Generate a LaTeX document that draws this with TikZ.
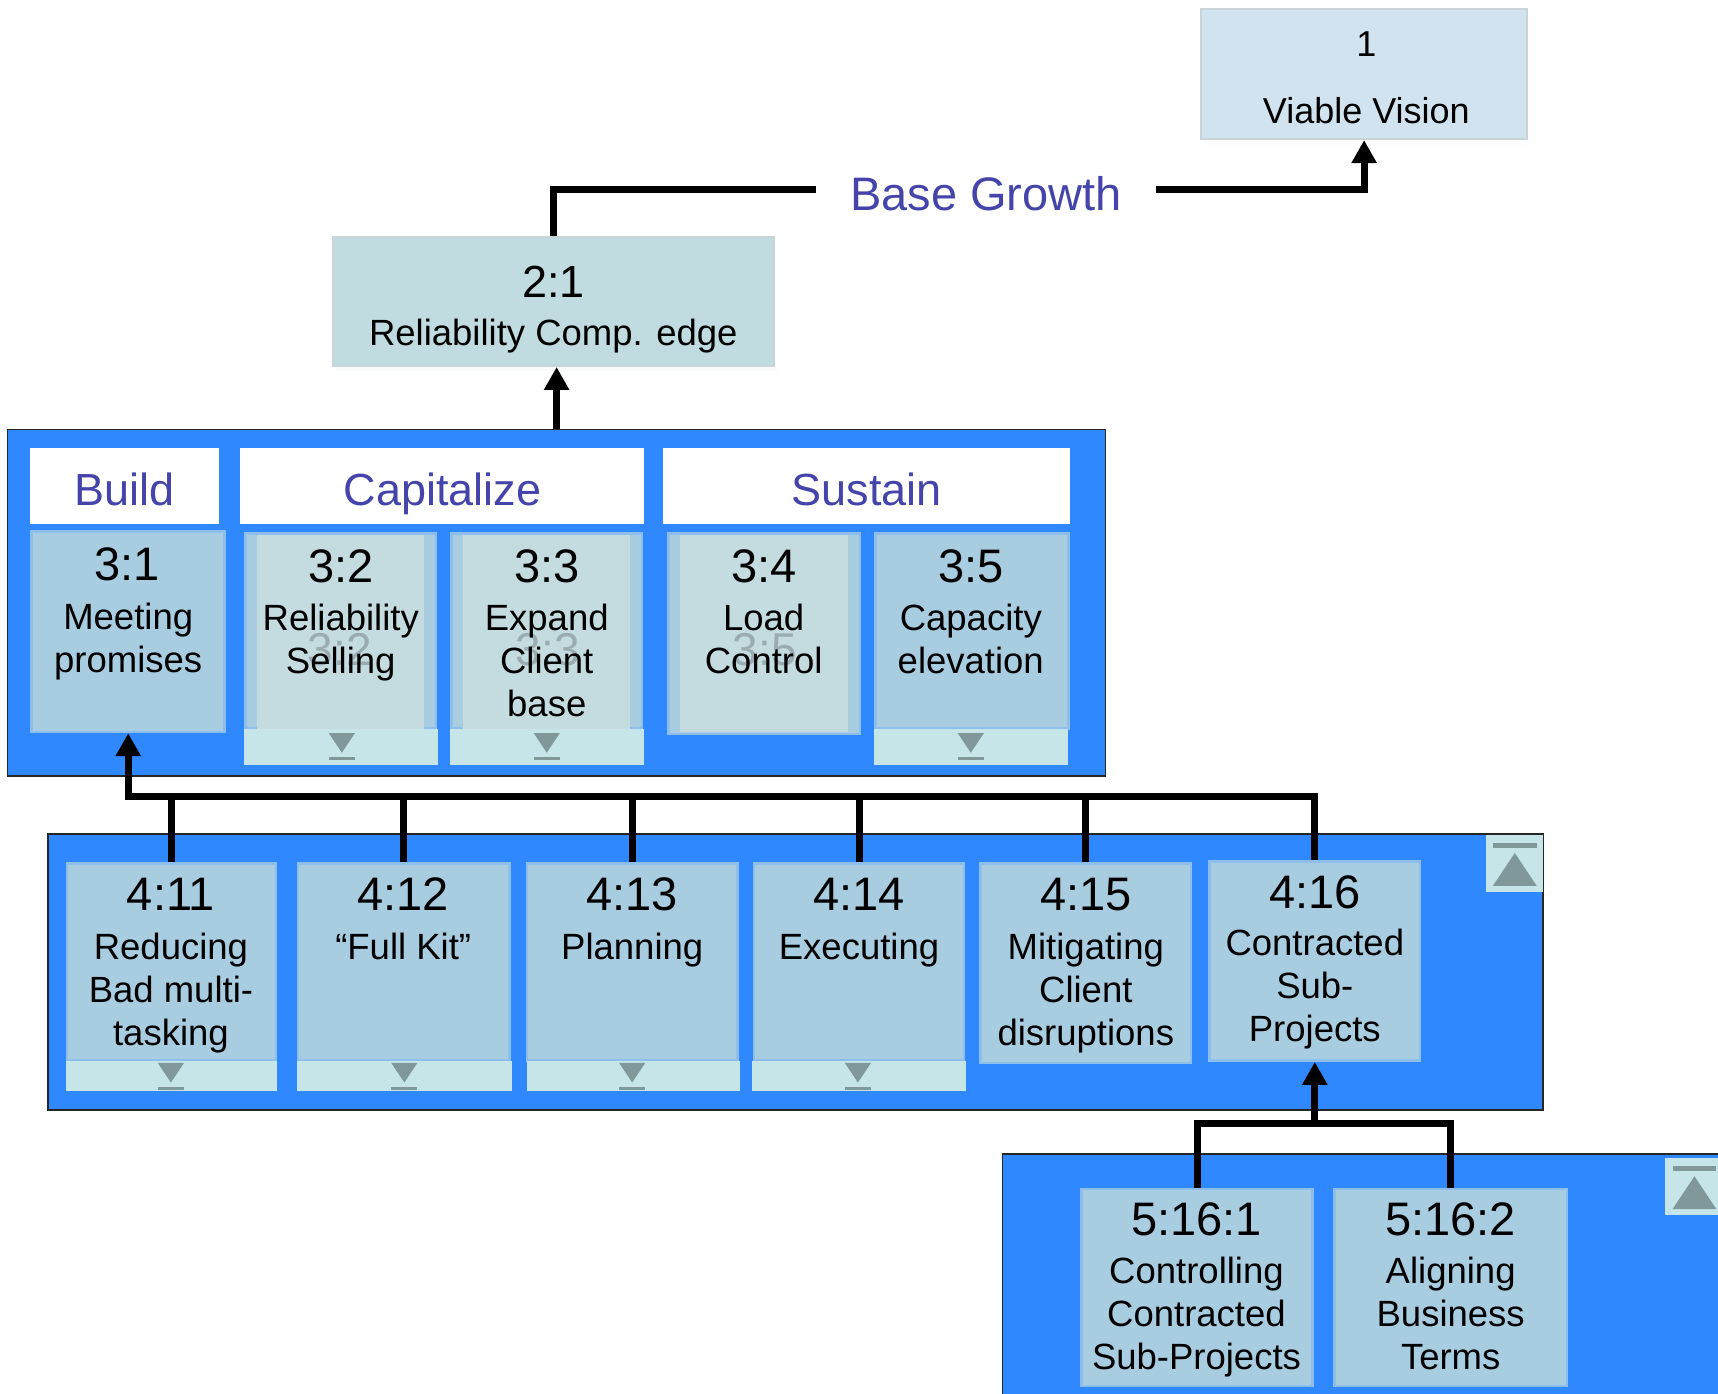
\documentclass[tikz,border=0pt]{standalone}
\usepackage{fontspec}
\setmainfont{Liberation Sans}
\usetikzlibrary{arrows.meta,fit}
\definecolor{panelblue}{RGB}{48,136,255}
\definecolor{boxfill}{RGB}{168,204,224}
\definecolor{boxedge}{RGB}{142,190,236}
\definecolor{greyfill}{RGB}{196,219,224}
\definecolor{stripfill}{RGB}{197,229,232}
\definecolor{trigrey}{RGB}{128,152,154}
\definecolor{headtext}{RGB}{68,68,170}
\definecolor{vvfill}{RGB}{208,227,238}
\definecolor{rcfill}{RGB}{192,220,224}
\definecolor{topedge}{RGB}{200,212,216}
\definecolor{ghost}{RGB}{155,172,176}
\tikzset{
  panel/.style={fill=panelblue, draw=black!85, line width=1.6pt, inner sep=0pt},
  box/.style={fill=boxfill, draw=boxedge, line width=2.6pt, inner sep=0pt},
  gbox/.style={fill=boxfill, draw=boxedge, line width=2.6pt, inner sep=0pt},
  topbox/.style={draw=topedge, line width=2pt, inner sep=0pt},
  header/.style={fill=white, inner sep=0pt},
  strip/.style={fill=stripfill, inner sep=0pt},
  numtxt/.style={font=\fontsize{47pt}{54pt}\selectfont, inner sep=0pt},
  bodytxt/.style={font=\fontsize{36.5pt}{43pt}\selectfont, align=center, inner sep=0pt, anchor=north},
  headtxt/.style={font=\fontsize{45pt}{54pt}\selectfont, text=headtext, inner sep=0pt, anchor=base},
  ghosttxt/.style={font=\fontsize{46pt}{52pt}\selectfont, text=ghost, inner sep=0pt},
  conn/.style={line width=7pt, draw=black, line join=miter},
  arr/.style={-{Triangle[width=24pt,length=23pt]}},
  downbtn/.pic={
    \fill[trigrey] (-12,4) -- (12,4) -- (0,22) -- cycle;
    \fill[trigrey] (-12,26) rectangle (12,29);
  },
  upbtn/.pic={
    \fill[stripfill] (0,0) rectangle (52,52);
    \fill[trigrey] (6.5,7.5) rectangle (46.5,12);
    \fill[trigrey] (6.5,46.5) -- (46.5,46.5) -- (26.5,16.5) -- cycle;
  }
}
\begin{document}
\begin{tikzpicture}[x=1.0957pt, y=-1.0957pt]
\useasboundingbox (0,0) rectangle (1568,1272);
\clip (0,0) rectangle (1568,1272);

% top level boxes
\fill[white!92!vvfill] (1099,127) rectangle (1397,132);
\node[topbox, fill=vvfill, fit={(1096,8)(1394,127)}] (vv) {};
\node[inner sep=0pt, font=\fontsize{36pt}{42pt}\selectfont] (vvnum) at (1247,40) {1};
\node[inner sep=0pt, font=\fontsize{36pt}{42pt}\selectfont] (vvtxt) at (1247,101) {Viable Vision};

\node[inner sep=0pt, font=\fontsize{47pt}{56pt}\selectfont, text=headtext] (bg) at (900,177) {Base Growth};
\coordinate (bgL) at (745,173);
\coordinate (bgR) at (1055,173);

\fill[white!90!rcfill] (307,334) rectangle (709,339);
\node[topbox, fill=rcfill, fit={(304,216)(706,334)}] (n21) {};
\node[numtxt, font=\fontsize{45pt}{54pt}\selectfont] (n21num) at (505,257) {2:1};
\node[inner sep=0pt, font=\fontsize{36.5pt}{43pt}\selectfont, anchor=base] (n21txt) at (505,315) {Reliability Comp. edge};

% panel 1
\node[panel, fit={(7,392)(1009,708)}] (p1) {};
\node[header, fit={(27,409)(200,478)}] (hbuild) {};
\node[header, fit={(219,409)(588,478)}] (hcap) {};
\node[header, fit={(605,409)(977,478)}] (hsus) {};
\node[headtxt] (hbuildtxt) at (114,461) {Build};
\node[headtxt] (hcaptxt) at (404,461) {Capitalize};
\node[headtxt] (hsustxt) at (791,461) {Sustain};

\node[box, fit={(29,485)(205,668)}] (n31) {};
\node[numtxt] (n31num) at (116,515) {3:1};
\node[bodytxt] (n31txt) at (117,550) {Meeting\\promises};

\node[gbox, fit={(224,487)(398,665)}] (n32) {};
\fill[greyfill] (235,488) rectangle (387,665);
\node[strip, fit={(223,665)(400,698)}] (s32) {};
\pic at (312,665) {downbtn};
\node[ghosttxt] (g32) at (310,593) {3:2};
\node[numtxt] (n32num) at (311,517) {3:2};
\node[bodytxt] (n32txt) at (311,551) {Reliability\\Selling};

\node[gbox, fit={(412,487)(586,665)}] (n33) {};
\fill[greyfill] (423,488) rectangle (575,665);
\node[strip, fit={(411,665)(588,698)}] (s33) {};
\pic at (499,665) {downbtn};
\node[ghosttxt] (g33) at (500,593) {3:3};
\node[numtxt] (n33num) at (499,517) {3:3};
\node[bodytxt] (n33txt) at (499,551) {Expand\\Client\\base};

\node[gbox, fit={(610,487)(785,670)}] (n34) {};
\fill[greyfill] (621,488) rectangle (774,668);
\node[ghosttxt] (g34) at (698,593) {3:5};
\node[numtxt] (n34num) at (697,517) {3:4};
\node[bodytxt] (n34txt) at (697,551) {Load\\Control};

\node[box, fit={(799,487)(975,665)}] (n35) {};
\node[strip, fit={(798,665)(975,698)}] (s35) {};
\pic at (886,665) {downbtn};
\node[numtxt] (n35num) at (886,517) {3:5};
\node[bodytxt] (n35txt) at (886,551) {Capacity\\elevation};

% panel 2
\node[panel, fit={(44,761)(1408,1013)}] (p2) {};
\pic at (1356,762) {upbtn};

\node[box, fit={(61,788)(252,968)}] (n411) {};
\node[strip, fit={(60,968)(253,996)}] (s411) {};
\pic at (156,966) {downbtn};
\node[numtxt] (n411num) at (156,816) {4:11};
\node[bodytxt] (n411txt) at (156,851) {Reducing\\Bad multi-\\tasking};

\node[box, fit={(272,788)(465,968)}] (n412) {};
\node[strip, fit={(271,968)(467,996)}] (s412) {};
\pic at (369,966) {downbtn};
\node[numtxt] (n412num) at (368,816) {4:12};
\node[bodytxt] (n412txt) at (368,851) {“Full Kit”};

\node[box, fit={(481,788)(673,968)}] (n413) {};
\node[strip, fit={(481,968)(675,996)}] (s413) {};
\pic at (577,966) {downbtn};
\node[numtxt] (n413num) at (577,816) {4:13};
\node[bodytxt] (n413txt) at (577,851) {Planning};

\node[box, fit={(688,788)(880,968)}] (n414) {};
\node[strip, fit={(686,968)(882,996)}] (s414) {};
\pic at (783,966) {downbtn};
\node[numtxt] (n414num) at (784,816) {4:14};
\node[bodytxt] (n414txt) at (784,851) {Executing};

\node[box, fit={(895,788)(1087,970)}] (n415) {};
\node[numtxt] (n415num) at (991,816) {4:15};
\node[bodytxt] (n415txt) at (991,851) {Mitigating\\Client\\disruptions};

\node[box, fit={(1104,786)(1296,968)}] (n416) {};
\node[numtxt] (n416num) at (1200,814) {4:16};
\node[bodytxt] (n416txt) at (1200,848) {Contracted\\Sub-\\Projects};

% panel 3
\node[panel, fit={(915,1053)(1600,1300)}] (p3) {};
\pic at (1520,1057) {upbtn};

\node[box, fit={(987,1085)(1198,1265)}] (n5161) {};
\node[numtxt] (n5161num) at (1092,1113) {5:16:1};
\node[bodytxt] (n5161txt) at (1092,1147) {Controlling\\Contracted\\Sub-Projects};

\node[box, fit={(1218,1085)(1430,1265)}] (n5162) {};
\node[numtxt] (n5162num) at (1324,1113) {5:16:2};
\node[bodytxt] (n5162txt) at (1324,1147) {Aligning\\Business\\Terms};

% connectors
\draw[conn] (n21.north) |- (bgL);
\draw[conn, arr] (bgR) -| (vv.south);
\draw[conn, arr] (p1.north) -- (p1.north |- n21.south);

\coordinate (bus) at (0,727);
\draw[conn, arr] (n416.north) -- (n416.north |- bus) -- (n31.south |- bus) -- (n31.south);
\foreach \n in {n411,n412,n413,n414,n415}
  \draw[conn] (\n.north) -- (\n.north |- bus);

\coordinate (bus2) at (0,1025);
\draw[conn] (n5161.north) |- (n5162.north |- bus2) -- (n5162.north);
\draw[conn, arr] (n416.south |- bus2) -- (n416.south);
\end{tikzpicture}
\end{document}
